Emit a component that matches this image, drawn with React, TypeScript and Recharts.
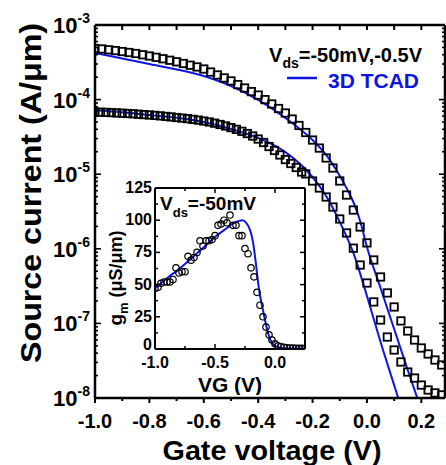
import { ComposedChart, Line, XAxis, YAxis } from "recharts";

const FONT = "'Liberation Sans', Arial, sans-serif";
const BLUE = "#0f14e6";

// measured source current, Vds = -0.5 V (squares)
const vHigh = [
  -1.0, -0.975, -0.95, -0.925, -0.9, -0.875, -0.85, -0.825, -0.8, -0.775,
  -0.75, -0.725, -0.7, -0.675, -0.65, -0.625, -0.6, -0.575, -0.55, -0.525,
  -0.5, -0.475, -0.45, -0.425, -0.4, -0.375, -0.35, -0.325, -0.3, -0.275,
  -0.25, -0.225, -0.2, -0.175, -0.15, -0.125, -0.1, -0.075, -0.05, -0.025,
  0.0, 0.025, 0.05, 0.075, 0.1, 0.125, 0.15, 0.175, 0.2, 0.225, 0.25, 0.275,
];
const iHigh = [
  4.84e-4, 4.77e-4, 4.65e-4, 4.54e-4, 4.41e-4, 4.28e-4, 4.15e-4, 3.99e-4, 3.84e-4, 3.69e-4,
  3.53e-4, 3.37e-4, 3.21e-4, 3.05e-4, 2.89e-4, 2.74e-4, 2.57e-4, 2.34e-4, 2.14e-4, 1.95e-4,
  1.78e-4, 1.59e-4, 1.43e-4, 1.28e-4, 1.15e-4, 1.0e-4, 8.73e-5, 7.6e-5, 6.61e-5, 5.49e-5,
  4.5e-5, 3.62e-5, 2.87e-5, 2.24e-5, 1.65e-5, 1.21e-5, 8.11e-6, 5.26e-6, 3.31e-6, 1.96e-6,
  1.2e-6, 7.08e-7, 4.19e-7, 2.56e-7, 1.66e-7, 1.08e-7, 7.91e-8, 5.99e-8, 4.68e-8, 3.89e-8,
  3.23e-8, 2.77e-8,
];

// measured source current, Vds = -50 mV (squares)
const vLow = [
  -1.0, -0.98, -0.96, -0.94, -0.92, -0.9, -0.88, -0.86, -0.84, -0.82,
  -0.8, -0.78, -0.76, -0.74, -0.72, -0.7, -0.68, -0.66, -0.64, -0.62,
  -0.6, -0.58, -0.56, -0.54, -0.52, -0.5, -0.48, -0.46, -0.44, -0.42,
  -0.4, -0.38, -0.36, -0.34, -0.32, -0.3, -0.28, -0.26, -0.24,
  -0.225, -0.2, -0.175, -0.15, -0.125, -0.1, -0.075, -0.05, -0.025, 0.0,
  0.025, 0.05, 0.075, 0.1, 0.125, 0.15, 0.175, 0.2, 0.225, 0.25, 0.275,
];
const iLow = [
  6.82e-5, 6.78e-5, 6.74e-5, 6.69e-5, 6.63e-5, 6.57e-5, 6.51e-5, 6.45e-5, 6.37e-5, 6.29e-5,
  6.22e-5, 6.14e-5, 6.05e-5, 5.95e-5, 5.86e-5, 5.75e-5, 5.65e-5, 5.55e-5, 5.43e-5, 5.31e-5,
  5.16e-5, 5.01e-5, 4.83e-5, 4.64e-5, 4.43e-5, 4.21e-5, 3.99e-5, 3.76e-5, 3.51e-5, 3.25e-5,
  2.96e-5, 2.66e-5, 2.35e-5, 2.08e-5, 1.81e-5, 1.57e-5, 1.39e-5, 1.23e-5, 1.07e-5,
  1.01e-5, 8.11e-6, 6.53e-6, 4.95e-6, 3.63e-6, 2.51e-6, 1.63e-6, 1.02e-6, 6.06e-7, 3.48e-7,
  1.94e-7, 1.11e-7, 6.57e-8, 4.4e-8, 3.04e-8, 2.23e-8, 1.85e-8, 1.49e-8, 1.28e-8, 1.17e-8, 1.1e-8,
];

// 3D TCAD curves
const tcadHighV = [-1.0, -0.8, -0.6, -0.5, -0.4, -0.3, -0.2, -0.15, -0.1, -0.075, -0.05, -0.025, 0.0, 0.05, 0.1, 0.15, 0.185];
const tcadHighI = [4.21e-4, 3.0e-4, 2.07e-4, 1.52e-4, 9.9e-5, 5.67e-5, 2.87e-5, 1.81e-5, 9.5e-6, 6.5e-6, 4.24e-6, 2.36e-6, 1.06e-6, 2.98e-7, 8.4e-8, 2.37e-8, 1.0e-8];
const tcadLowV = [-1.0, -0.8, -0.6, -0.5, -0.4, -0.3, -0.2, -0.15, -0.1, -0.05, 0.0, 0.05, 0.1, 0.115];
const tcadLowI = [7.25e-5, 6.22e-5, 5.01e-5, 4.04e-5, 3.06e-5, 1.98e-5, 9.17e-6, 5.1e-6, 2.29e-6, 8.8e-7, 2.33e-7, 5.63e-8, 1.49e-8, 1.0e-8];

// inset: transconductance at Vds = -50 mV
const gmV = [
  -1.0, -0.975, -0.95, -0.925, -0.9, -0.875, -0.85, -0.825, -0.8, -0.775,
  -0.75, -0.725, -0.7, -0.675, -0.65, -0.625, -0.6, -0.575, -0.55, -0.525,
  -0.5, -0.475, -0.45, -0.425, -0.4, -0.375, -0.35, -0.325, -0.3, -0.275,
  -0.25, -0.225, -0.2, -0.175, -0.15, -0.125, -0.1, -0.075, -0.05, -0.025,
  0.0, 0.025, 0.05, 0.075, 0.1, 0.125, 0.15, 0.175, 0.2, 0.225, 0.25,
];
const gmMeas = [
  47, 48, 51, 52, 52, 52, 54, 63, 59, 60,
  60, 72, 69, 71, 75, 84, 80, 84, 84, 85,
  88, 96, 97, 100, 98, 104, 96, 96, 88, 88,
  78, 74, 63, 56, 44, 34, 25, 17, 11, 7,
  4, 2.5, 1.8, 1.3, 1.0, 0.8, 0.7, 0.6, 0.5, 0.5, 0.4,
];
const gmFitV = [-1.0, -0.9, -0.8, -0.7, -0.6, -0.5, -0.4, -0.35, -0.3, -0.27, -0.24, -0.22, -0.2, -0.18, -0.16, -0.14, -0.12, -0.1, -0.08, -0.06, -0.04, -0.02, 0.0, 0.05, 0.1, 0.25];
const gmFit = [47, 55, 62, 70, 78.5, 87, 94, 97.5, 99.5, 100, 98, 95, 90, 81, 67, 51, 39, 30, 21, 13, 7.5, 4, 2.5, 1, 0.5, 0.3];

const xTicks = [-1.0, -0.9, -0.8, -0.7, -0.6, -0.5, -0.4, -0.3, -0.2, -0.1, 0.0, 0.1, 0.2];
const decades = [1e-8, 1e-7, 1e-6, 1e-5, 1e-4, 1e-3];
const insetXTicks = [-1.0, -0.75, -0.5, -0.25, 0.0];
const insetYTicks = [0, 12.5, 25, 37.5, 50, 62.5, 75, 87.5, 100, 112.5, 125];

const zip = (xs: number[], ys: number[], key: string) =>
  xs.map((v, i) => ({ v, [key]: ys[i] }));

const highData = zip(vHigh, iHigh, "i");
const lowData = zip(vLow, iLow, "i");
const tcadHigh = zip(tcadHighV, tcadHighI, "i");
const tcadLow = zip(tcadLowV, tcadLowI, "i");
const gmData = zip(gmV, gmMeas, "g");
const gmFitData = zip(gmFitV, gmFit, "g");

const logTicks: number[] = [];
decades.forEach((d, k) => {
  logTicks.push(d);
  if (k < decades.length - 1) for (let m = 2; m <= 9; m++) logTicks.push(m * d);
});

const isDecade = (v: number) => Math.abs(Math.log10(v) - Math.round(Math.log10(v))) < 1e-6;

const Square = (p: any) => {
  if (p.cx == null || p.cy == null) return <g key={`s${p.index}`} />;
  return (
    <rect key={`s${p.index}`} x={p.cx - 3.7} y={p.cy - 3.7} width={7.4} height={7.4}
      fill="none" stroke="#000" strokeWidth={1.8} />
  );
};

const Circle = (p: any) => {
  if (p.cx == null || p.cy == null) return <g key={`c${p.index}`} />;
  return <circle key={`c${p.index}`} cx={p.cx} cy={p.cy} r={3.2} fill="none" stroke="#000" strokeWidth={1.2} />;
};

const textProps = { fontFamily: FONT, fontWeight: 700, fill: "#000" };

const BottomTick = ({ x, y, payload }: any) => {
  const v = payload.value;
  const major = Math.round(v * 10) % 2 === 0;
  return (
    <g>
      <line x1={x} x2={x} y1={y} y2={y + (major ? 5 : 3)} stroke="#000" strokeWidth={2} />
      {major && (
        <text x={x} y={y + 30} textAnchor="middle" fontSize={20} {...textProps}>
          {v.toFixed(1)}
        </text>
      )}
    </g>
  );
};

const TopTick = ({ x, y }: any) => (
  <line x1={x} x2={x} y1={y} y2={y + 5} stroke="#000" strokeWidth={2} />
);

const LeftLogTick = ({ x, y, payload }: any) => {
  const v = payload.value;
  const major = isDecade(v);
  return (
    <g>
      <line x1={x} x2={x + (major ? 6 : 3)} y1={y} y2={y} stroke="#000" strokeWidth={1.6} />
      {major && (
        <text x={x - 5} y={y + 8} textAnchor="end" {...textProps}>
          <tspan fontSize={22}>10</tspan>
          <tspan fontSize={14} dy={-10}>{Math.round(Math.log10(v))}</tspan>
        </text>
      )}
    </g>
  );
};

const RightLogTick = ({ x, y, payload }: any) => {
  const major = isDecade(payload.value);
  return <line x1={x} x2={x - (major ? 6 : 3)} y1={y} y2={y} stroke="#000" strokeWidth={1.6} />;
};

const InsetBottomTick = ({ x, y, payload }: any) => {
  const v = payload.value;
  const major = Math.abs(v * 2 - Math.round(v * 2)) < 1e-6;
  return (
    <g>
      <line x1={x} x2={x} y1={y} y2={y - (major ? 5 : 3)} stroke="#000" strokeWidth={1.5} />
      {major && (
        <text x={x} y={y + 19} textAnchor="middle" fontSize={16} {...textProps}>
          {v.toFixed(1)}
        </text>
      )}
    </g>
  );
};

const InsetTopTick = ({ x, y, payload }: any) => {
  const v = payload.value;
  const major = Math.abs(v * 2 - Math.round(v * 2)) < 1e-6;
  return <line x1={x} x2={x} y1={y} y2={y + (major ? 5 : 3)} stroke="#000" strokeWidth={1.5} />;
};

const InsetLeftTick = ({ x, y, payload }: any) => {
  const v = payload.value;
  const major = v % 25 === 0;
  return (
    <g>
      <line x1={x} x2={x + (major ? 5 : 3)} y1={y} y2={y} stroke="#000" strokeWidth={1.5} />
      {major && (
        <text x={x - 3} y={y + (v === 0 ? 1 : 5)} textAnchor="end" fontSize={16} {...textProps}>
          {v}
        </text>
      )}
    </g>
  );
};

const InsetRightTick = ({ x, y, payload }: any) => {
  const major = payload.value % 25 === 0;
  return <line x1={x} x2={x - (major ? 5 : 3)} y1={y} y2={y} stroke="#000" strokeWidth={1.5} />;
};

const axisLine = { stroke: "#000", strokeWidth: 2.5 };
const insetAxisLine = { stroke: "#000", strokeWidth: 2 };

function Inset() {
  return (
    <ComposedChart width={215} height={215} margin={{ top: 7, right: 4, bottom: 45, left: 0 }}>
      <XAxis xAxisId="b" type="number" dataKey="v" domain={[-1, 0.25]} allowDataOverflow
        ticks={insetXTicks} interval={0} tickSize={0} tickMargin={0} height={1}
        axisLine={insetAxisLine} tick={InsetBottomTick} />
      <XAxis xAxisId="t" orientation="top" type="number" dataKey="v" domain={[-1, 0.25]} allowDataOverflow
        ticks={insetXTicks} interval={0} tickSize={0} tickMargin={0} height={1}
        axisLine={insetAxisLine} tick={InsetTopTick} />
      <YAxis yAxisId="l" type="number" domain={[0, 125]} allowDataOverflow ticks={insetYTicks}
        interval={0} tickSize={0} tickMargin={0} width={60} axisLine={insetAxisLine} tick={InsetLeftTick} />
      <YAxis yAxisId="r" orientation="right" type="number" domain={[0, 125]} allowDataOverflow
        ticks={insetYTicks} interval={0} tickSize={0} tickMargin={0} width={1}
        axisLine={insetAxisLine} tick={InsetRightTick} />
      <Line xAxisId="b" yAxisId="l" data={gmData} dataKey="g" stroke="none" dot={Circle}
        activeDot={false} isAnimationActive={false} />
      <Line xAxisId="b" yAxisId="l" data={gmFitData} dataKey="g" type="monotone" stroke={BLUE}
        strokeWidth={2} dot={false} activeDot={false} isAnimationActive={false} />
      <text x={65} y={30} {...textProps}>
        <tspan fontSize={19}>V</tspan>
        <tspan fontSize={13} dy={7}>ds</tspan>
        <tspan fontSize={19} dy={-7}>=-50mV</tspan>
      </text>
      <text x={135} y={212} textAnchor="middle" fontSize={21} {...textProps}>VG (V)</text>
      <text transform="translate(27,98) rotate(-90)" textAnchor="middle" {...textProps}>
        <tspan fontSize={19}>g</tspan>
        <tspan fontSize={13} dy={6}>m</tspan>
        <tspan fontSize={18} dy={-6}> (μS/μm)</tspan>
      </text>
    </ComposedChart>
  );
}

export default function App() {
  return (
    <div style={{ position: "absolute", left: 0, top: 0, width: 446, height: 465, background: "#fff" }}>
      <ComposedChart width={446} height={465} margin={{ top: 24, right: 0, bottom: 66, left: 0 }}>
        <XAxis xAxisId="b" type="number" dataKey="v" domain={[-1, 0.287]} allowDataOverflow
          ticks={xTicks} interval={0} tickSize={0} tickMargin={0} height={1}
          axisLine={axisLine} tick={BottomTick} />
        <XAxis xAxisId="t" orientation="top" type="number" dataKey="v" domain={[-1, 0.287]} allowDataOverflow
          ticks={xTicks} interval={0} tickSize={0} tickMargin={0} height={1}
          axisLine={axisLine} tick={TopTick} />
        <YAxis yAxisId="l" type="number" scale="log" domain={[1e-8, 1e-3]} allowDataOverflow
          ticks={logTicks} interval={0} tickSize={0} tickMargin={0} width={95}
          axisLine={axisLine} tick={LeftLogTick} />
        <YAxis yAxisId="r" orientation="right" type="number" scale="log" domain={[1e-8, 1e-3]} allowDataOverflow
          ticks={logTicks} interval={0} tickSize={0} tickMargin={0} width={1}
          axisLine={axisLine} tick={RightLogTick} />
        <Line xAxisId="b" yAxisId="l" data={highData} dataKey="i" stroke="none" dot={Square}
          activeDot={false} isAnimationActive={false} />
        <Line xAxisId="b" yAxisId="l" data={lowData} dataKey="i" stroke="none" dot={Square}
          activeDot={false} isAnimationActive={false} />
        <Line xAxisId="b" yAxisId="l" data={tcadHigh} dataKey="i" type="monotone" stroke={BLUE}
          strokeWidth={2} dot={false} activeDot={false} isAnimationActive={false} />
        <Line xAxisId="b" yAxisId="l" data={tcadLow} dataKey="i" type="monotone" stroke={BLUE}
          strokeWidth={2} dot={false} activeDot={false} isAnimationActive={false} />
        <text x={422} y={62} textAnchor="end" {...textProps}>
          <tspan fontSize={20}>V</tspan>
          <tspan fontSize={14} dy={6}>ds</tspan>
          <tspan fontSize={20} dy={-6}>=-50mV,-0.5V</tspan>
        </text>
        <line x1={287} x2={317} y1={78} y2={78} stroke={BLUE} strokeWidth={2.5} />
        <text x={419} y={88} textAnchor="end" fontSize={21} {...textProps} fill={BLUE}>3D TCAD</text>
        <text x={272} y={460} textAnchor="middle" fontSize={27} textLength={219}
          lengthAdjust="spacingAndGlyphs" {...textProps}>Gate voltage (V)</text>
        <text transform="translate(41,193) rotate(-90)" textAnchor="middle" fontSize={29}
          textLength={340} lengthAdjust="spacingAndGlyphs" {...textProps}>
          Source current (A/μm)
        </text>
      </ComposedChart>
      <div style={{ position: "absolute", left: 95, top: 180 }}>
        <Inset />
      </div>
    </div>
  );
}
